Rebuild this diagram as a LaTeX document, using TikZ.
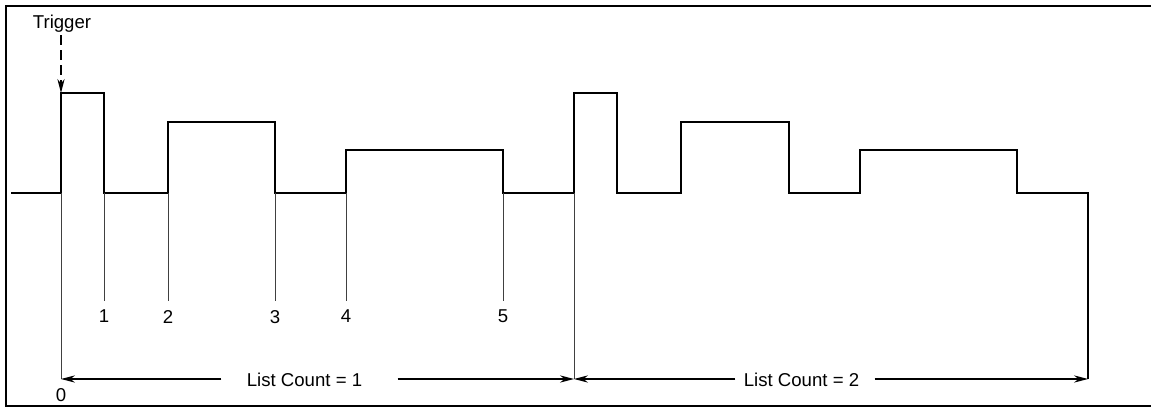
\documentclass[tikz,border=0pt]{standalone}
\usepackage{fontspec}
\setmainfont{Liberation Sans}
\usetikzlibrary{arrows.meta}

\begin{document}
\begin{tikzpicture}[x=0.5pt,y=-0.5pt,>={Stealth[length=7pt,width=3.6pt]},
  font=\fontsize{9.3}{11}\selectfont,
  wave/.style={line width=0.55pt},
  tick/.style={black!75,line width=0.5pt},
  ticklabel/.style={below=1pt,text=black},
  span/.style={line width=0.55pt}]
\useasboundingbox (0,0) rectangle (1151,411);
\draw[line width=1pt] (1151,6) -- (6,6) -- (6,406) -- (1151,406);
% waveform
\coordinate (top0) at (61,93);
\coordinate (a0) at (61,379);
\coordinate (a1) at (574,379);
\coordinate (a2) at (1088,379);
\draw[wave] (11,193) -- (61,193) -- (top0) -- (104,93) -- (104,193) -- (168,193) -- (168,122) -- (275,122) -- (275,193)
  -- (346,193) -- (346,150) -- (503,150) -- (503,193) -- (574,193) -- (574,93) -- (617,93) -- (617,193) -- (681,193)
  -- (681,122) -- (789,122) -- (789,193) -- (860,193) -- (860,150) -- (1017,150) -- (1017,193) -- (1088,193) -- (a2);
\draw[line width=1.1pt] (524,193) -- (574,193);
% trigger
\node[anchor=base,inner ysep=1pt] (trig) at (62,29) {Trigger};
\draw[->,dashed,dash pattern=on 5pt off 2.5pt,line width=0.55pt] (trig.south -| top0) -- (top0);
% markers
\draw[tick] (61,193) -- (a0) node[ticklabel] (lab0) {0};
\draw[tick] (104,193) -- (104,301) node[ticklabel] (lab1) {1};
\draw[tick] (168,193) -- (168,301) node[ticklabel] (lab2) {2};
\draw[tick] (275,193) -- (275,301) node[ticklabel] (lab3) {3};
\draw[tick] (346,193) -- (346,301) node[ticklabel] (lab4) {4};
\draw[tick] (503,193) -- (503,301) node[ticklabel] (lab5) {5};
\draw[tick] (574,193) -- (a1);
% list counts
\node[inner sep=0pt] (lc1) at (304.5,380) {List Count = 1};
\draw[span,->] ([xshift=-12.5pt]lc1.west |- a0) -- (a0);
\draw[span,->] ([xshift=17.5pt]lc1.east |- a0) -- (a1);
\node[inner sep=0pt] (lc2) at (801.5,380) {List Count = 2};
\draw[span,->] ([xshift=-4pt]lc2.west |- a1) -- (a1);
\draw[span,->] ([xshift=7.5pt]lc2.east |- a1) -- (a2);
\end{tikzpicture}
\end{document}
